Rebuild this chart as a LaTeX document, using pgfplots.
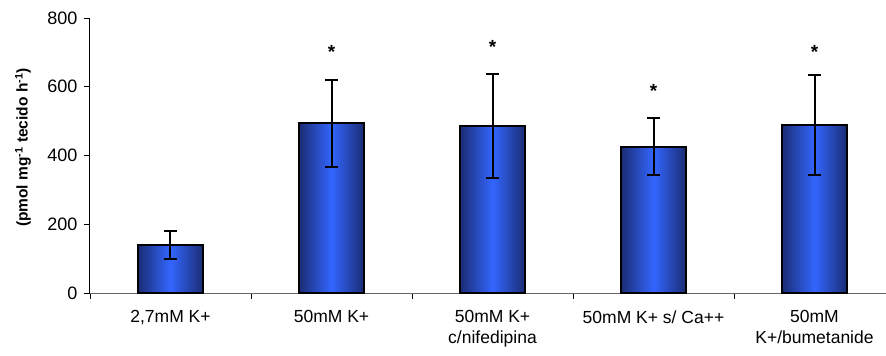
\documentclass[border=0pt]{standalone}
\usepackage{pgfplots}
\pgfplotsset{compat=1.18}
\usepackage{fontspec}
\setmainfont{Liberation Sans}
\definecolor{barEdge}{HTML}{1B2C74}
\definecolor{barMid}{HTML}{3366FF}
\pgfplotsset{
  mybar/.style={ybar, bar width=65bp, bar shift=0pt, draw=black, line width=2bp,
    left color=barEdge, right color=barEdge, middle color=barMid,
    error bars/.cd, y dir=both, y explicit,
    error bar style={line width=2bp, black},
    error mark options={rotate=90, mark size=6.5bp, line width=2bp, black}},
}
\begin{document}
\begin{tikzpicture}
\path[use as bounding box] (-90bp,-63bp) rectangle (796bp,293bp);
\begin{axis}[
  at={(0,0)}, anchor=south west,
  scale only axis, width=805bp, height=275bp,
  xmin=-0.5, xmax=4.5, ymin=0, ymax=800,
  axis x line*=bottom, axis y line*=left,
  x axis line style={-, draw=gray!80!black, line width=1bp},
  y axis line style={-, draw=black, line width=1bp},
  ytick={0,200,400,600,800},
  xtick={-0.5,0.5,1.5,2.5,3.5,4.5},
  xticklabels={{2,7mM K+},{50mM K+},{50mM K+\\c/nifedipina},{50mM K+ s/ Ca++},{50mM\\K+/bumetanide}},
  x tick label as interval,
  tick align=outside, major tick length=6bp,
  tick style={draw=black, line width=0.9bp},
  xticklabel style={align=center, font=\fontsize{17.5bp}{21bp}\selectfont, yshift=-8bp},
  yticklabel style={font=\fontsize{18bp}{20bp}\selectfont, xshift=-3bp},
  /pgf/number format/assume math mode=true,
  every axis y label/.style={at={(axis description cs:-0.0832,0.529)}, rotate=90, anchor=center},
  ylabel={\fontsize{15.5bp}{18bp}\selectfont\textbf{(pmol mg\textsuperscript{-1} tecido h\textsuperscript{-1})}},
  clip=false,
]
\addplot[mybar] coordinates {(0,140) +- (0,40)};
\addplot[mybar] coordinates {(1,494) +- (0,127)};
\addplot[mybar] coordinates {(2,486) +- (0,150)};
\addplot[mybar] coordinates {(3,426) +- (0,82)};
\addplot[mybar] coordinates {(4,489) +- (0,145)};
\addplot[draw=none, mark=none, nodes near coords={*},
  every node near coord/.append style={anchor=center, font=\fontsize{19bp}{19bp}\selectfont\bfseries}]
coordinates {
  (1,700) (2,715) (3,589) (4,702)
};
\end{axis}
\end{tikzpicture}
\end{document}
